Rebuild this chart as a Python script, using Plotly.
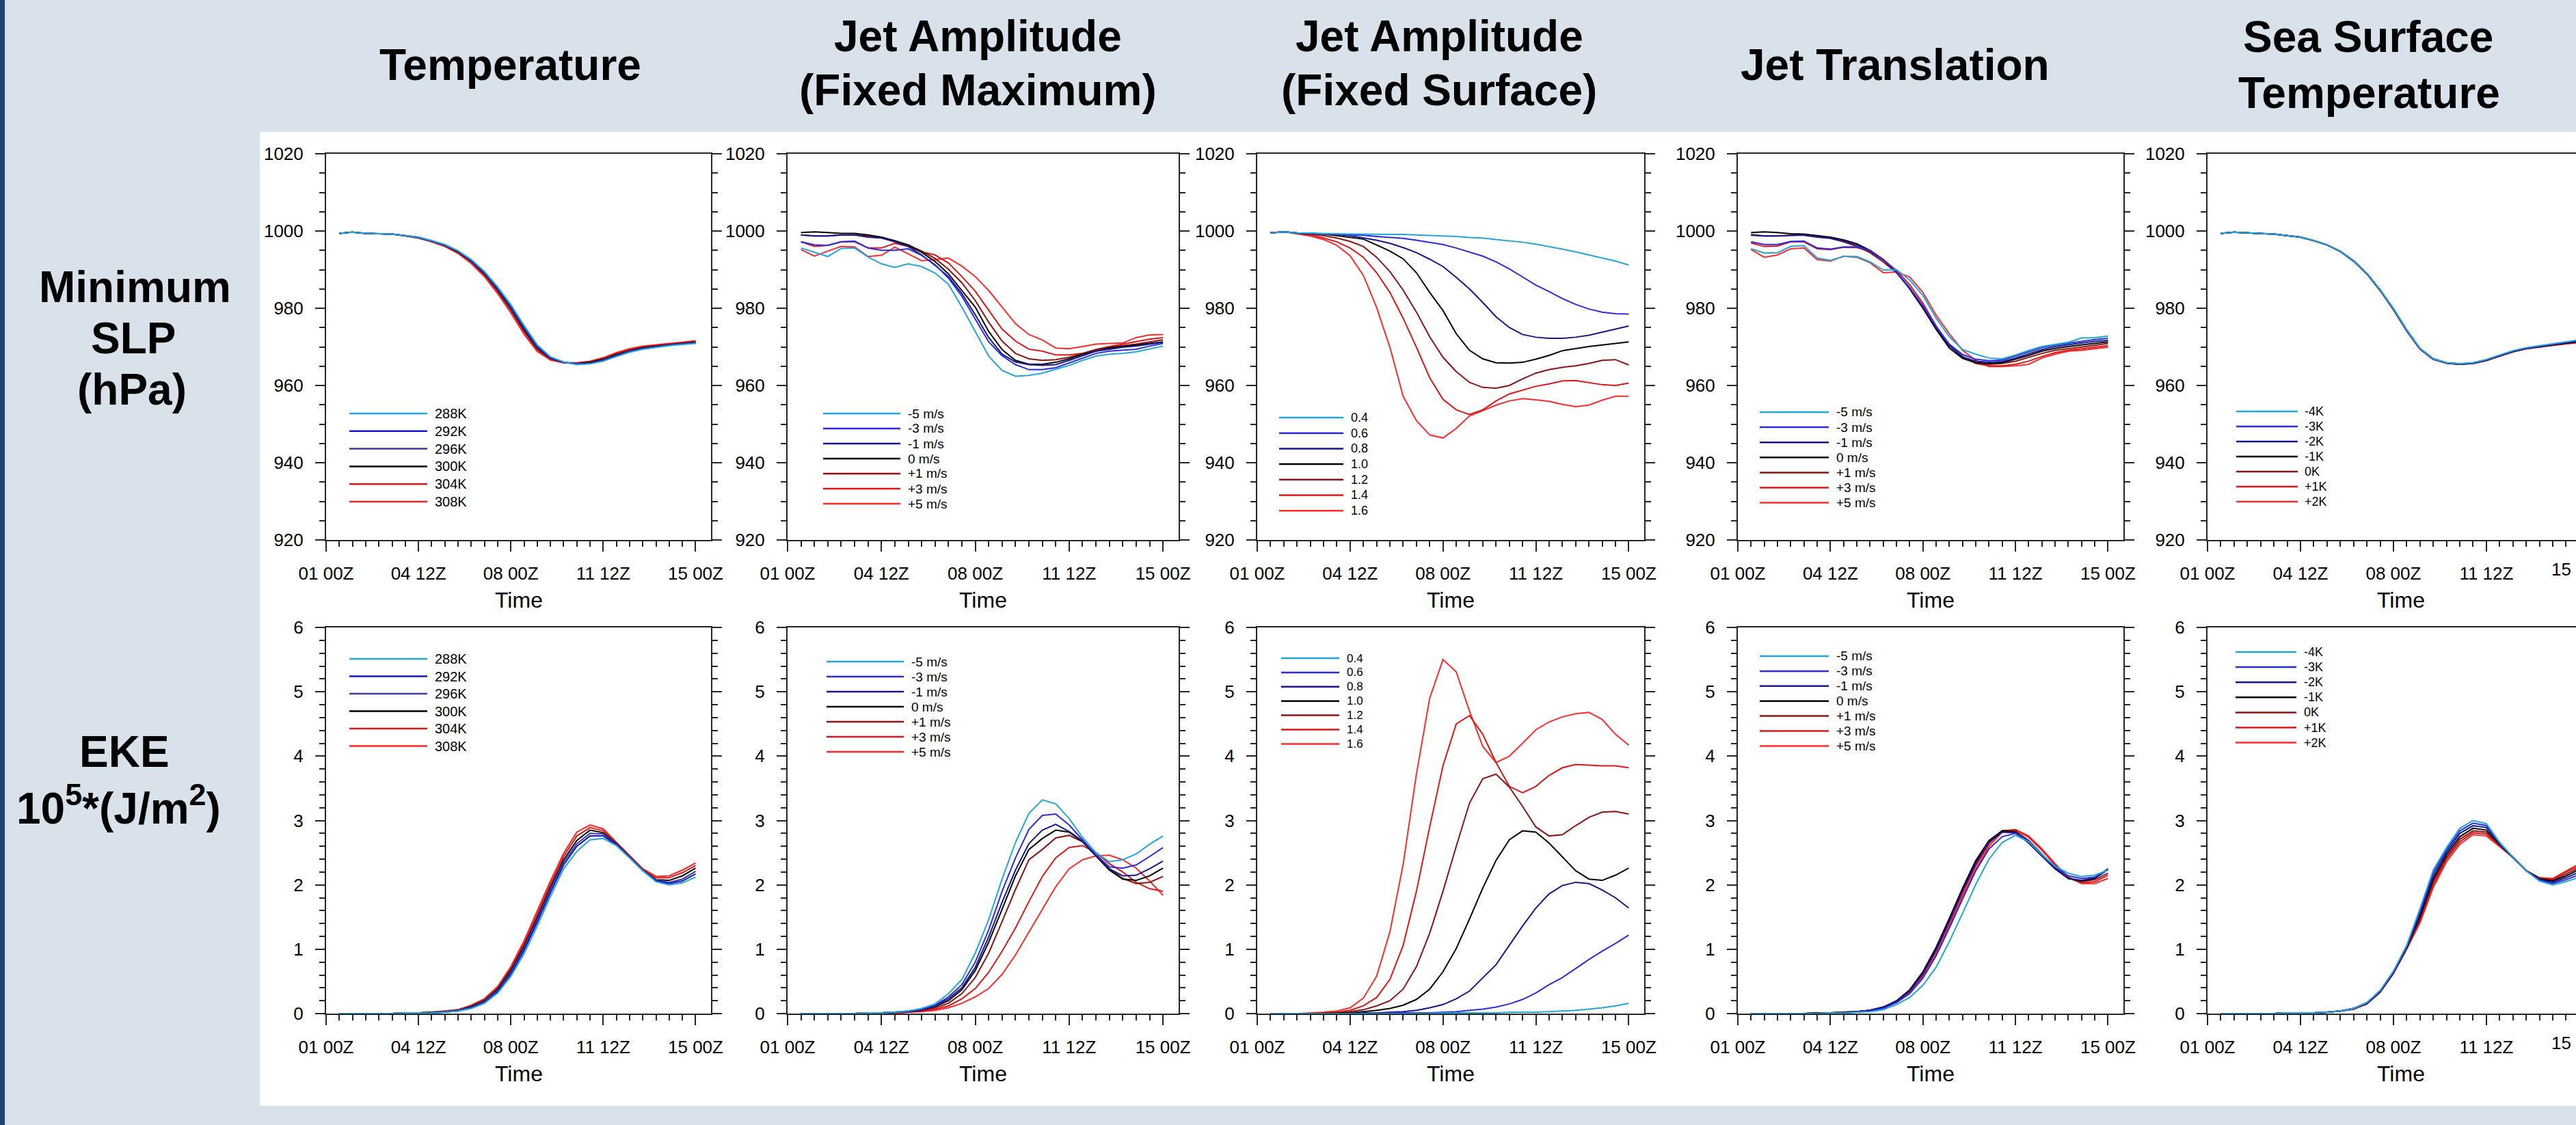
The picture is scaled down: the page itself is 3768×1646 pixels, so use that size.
import plotly.graph_objects as go

W, H = 3768, 1646

# ---------------- data ----------------
HOURS = [12, 24, 36, 48, 60, 72, 84, 96, 108, 120, 132, 144, 156, 168,
         180, 192, 204, 216, 228, 240, 252, 264, 276, 288, 300, 312, 324, 336]
TICK_HOURS = [0, 84, 168, 252, 336]
TICK_LABELS = ["01 00Z", "04 12Z", "08 00Z", "11 12Z", "15 00Z"]
MINOR_HOURS = [12, 24, 36, 48, 60, 72, 96, 108, 120, 132, 144, 156, 180, 192,
               204, 216, 228, 240, 264, 276, 288, 300, 312, 324]

COL_TITLES = [["Temperature"], ["Jet Amplitude", "(Fixed Maximum)"],
              ["Jet Amplitude", "(Fixed Surface)"], ["Jet Translation"],
              ["Sea Surface", "Temperature"]]
ROW_TITLES = [["Minimum", "SLP", "(hPa)"], ["EKE", "10<sup>5</sup>*(J/m<sup>2</sup>)"]]
X_TITLE = "Time"

TEMP_LABELS = ["288K", "292K", "296K", "300K", "304K", "308K"]
JET_LABELS = ["-5 m/s", "-3 m/s", "-1 m/s", "0 m/s", "+1 m/s", "+3 m/s", "+5 m/s"]
AMP_LABELS = ["0.4", "0.6", "0.8", "1.0", "1.2", "1.4", "1.6"]
SST_LABELS = ["-4K", "-3K", "-2K", "-1K", "0K", "+1K", "+2K"]

# Temperature: minimum SLP (hPa)
slp_t288 = [999.4, 999.7, 999.4, 999.3, 999.2, 998.8, 998.4, 997.5, 996.5, 994.9, 992.6, 989.5, 985.5, 980.9, 975.5, 970.5, 967.4, 966.1, 965.4, 965.6, 966.3, 967.5, 968.6, 969.4, 969.9, 970.3, 970.6, 970.9]
slp_t292 = [999.4, 999.7, 999.4, 999.3, 999.2, 998.8, 998.4, 997.5, 996.4, 994.8, 992.4, 989.3, 985.2, 980.5, 975.1, 970.1, 967.2, 966.0, 965.5, 965.7, 966.4, 967.6, 968.7, 969.5, 970.0, 970.4, 970.7, 971.0]
slp_t296 = [999.4, 999.7, 999.4, 999.3, 999.2, 998.8, 998.3, 997.4, 996.3, 994.7, 992.3, 989.1, 985.0, 980.2, 974.8, 969.9, 967.1, 966.0, 965.6, 965.8, 966.6, 967.8, 968.9, 969.6, 970.1, 970.5, 970.8, 971.1]
slp_t300 = [999.4, 999.7, 999.4, 999.3, 999.2, 998.8, 998.3, 997.4, 996.3, 994.6, 992.2, 988.9, 984.7, 979.9, 974.4, 969.6, 967.0, 966.0, 965.6, 966.0, 966.8, 968.0, 969.0, 969.8, 970.2, 970.6, 970.9, 971.2]
slp_t304 = [999.4, 999.7, 999.4, 999.3, 999.2, 998.7, 998.2, 997.3, 996.1, 994.4, 991.9, 988.6, 984.3, 979.4, 973.9, 969.2, 966.8, 965.9, 965.8, 966.1, 967.0, 968.3, 969.3, 970.0, 970.4, 970.8, 971.1, 971.4]
slp_t308 = [999.4, 999.7, 999.4, 999.3, 999.2, 998.7, 998.2, 997.2, 996.0, 994.2, 991.6, 988.2, 983.8, 978.8, 973.3, 968.8, 966.6, 965.9, 965.9, 966.3, 967.2, 968.5, 969.5, 970.2, 970.6, 970.9, 971.2, 971.6]

# Temperature: EKE (1e5 J/m2)
eke_t288 = [0, 0, 0, 0, 0, 0.01, 0.01, 0.01, 0.02, 0.04, 0.08, 0.16, 0.32, 0.58, 0.93, 1.36, 1.82, 2.25, 2.52, 2.70, 2.72, 2.61, 2.42, 2.22, 2.05, 2.00, 2.03, 2.12]
eke_t292 = [0, 0, 0, 0, 0, 0.01, 0.01, 0.01, 0.02, 0.04, 0.09, 0.17, 0.34, 0.61, 0.98, 1.42, 1.88, 2.31, 2.60, 2.76, 2.76, 2.62, 2.42, 2.22, 2.06, 2.02, 2.06, 2.17]
eke_t296 = [0, 0, 0, 0, 0, 0.01, 0.01, 0.01, 0.03, 0.05, 0.10, 0.19, 0.36, 0.64, 1.02, 1.46, 1.93, 2.35, 2.64, 2.80, 2.79, 2.63, 2.43, 2.23, 2.07, 2.04, 2.09, 2.21]
eke_t300 = [0, 0, 0, 0, 0, 0.01, 0.01, 0.02, 0.03, 0.05, 0.11, 0.20, 0.38, 0.67, 1.05, 1.49, 1.96, 2.39, 2.69, 2.85, 2.81, 2.64, 2.43, 2.23, 2.08, 2.07, 2.14, 2.26]
eke_t304 = [0, 0, 0, 0, 0, 0.01, 0.01, 0.02, 0.03, 0.06, 0.12, 0.22, 0.40, 0.70, 1.09, 1.54, 2.01, 2.44, 2.76, 2.89, 2.84, 2.65, 2.44, 2.24, 2.11, 2.11, 2.19, 2.30]
eke_t308 = [0, 0, 0, 0, 0, 0.01, 0.01, 0.02, 0.04, 0.06, 0.13, 0.23, 0.42, 0.73, 1.13, 1.59, 2.06, 2.49, 2.82, 2.93, 2.87, 2.66, 2.45, 2.25, 2.13, 2.14, 2.23, 2.34]

# Jet amplitude (fixed maximum): SLP
slp_am_m5 = [995.6, 994.5, 993.4, 995.5, 995.6, 993.3, 991.5, 990.6, 991.5, 990.8, 989.1, 986.2, 980.3, 974.0, 967.6, 963.9, 962.4, 962.6, 963.2, 964.2, 965.2, 966.5, 967.6, 968.1, 968.3, 968.7, 969.4, 970.2]
slp_am_m3 = [997.2, 996.4, 996.3, 997.2, 997.4, 995.6, 995.0, 995.0, 995.4, 993.7, 991.3, 987.8, 983.1, 977.2, 971.3, 967.7, 965.4, 964.1, 964.1, 964.6, 965.8, 967.1, 968.3, 968.9, 969.1, 969.4, 970.2, 970.9]
slp_am_m1 = [999.0, 998.7, 998.7, 999.0, 999.0, 998.4, 998.2, 997.2, 996.0, 993.8, 991.1, 988.2, 983.8, 978.3, 972.4, 968.1, 966.1, 965.4, 965.2, 965.4, 966.5, 967.7, 968.9, 969.4, 969.9, 970.2, 970.7, 971.2]
slp_am_0 = [999.6, 999.8, 999.6, 999.4, 999.4, 999.0, 998.4, 997.5, 996.4, 994.5, 992.1, 988.9, 984.6, 980.3, 974.0, 969.3, 966.5, 965.5, 965.5, 966.0, 966.9, 968.1, 968.9, 969.7, 970.1, 970.5, 970.9, 971.3]
slp_am_p1 = [999.0, 998.7, 998.7, 999.0, 999.0, 998.7, 998.4, 997.2, 996.4, 994.8, 992.9, 990.1, 986.6, 982.0, 976.4, 971.5, 968.3, 966.9, 966.5, 966.7, 967.3, 968.3, 969.3, 969.9, 970.3, 970.7, 971.3, 971.8]
slp_am_p3 = [997.2, 996.0, 996.3, 997.2, 997.2, 995.6, 995.6, 996.8, 996.0, 994.6, 993.8, 991.7, 988.2, 984.4, 979.5, 974.6, 971.5, 969.4, 968.9, 967.9, 967.9, 968.3, 969.3, 970.1, 970.7, 971.3, 972.0, 972.4]
slp_am_p5 = [995.2, 993.5, 994.8, 996.0, 995.9, 993.4, 993.7, 995.8, 994.1, 992.3, 992.6, 993.0, 990.9, 988.2, 984.6, 980.3, 976.0, 973.2, 971.8, 969.7, 969.5, 970.1, 970.7, 970.9, 971.0, 972.4, 973.1, 973.2]

# Jet amplitude (fixed maximum): EKE
eke_am_m5 = [0, 0, 0, 0, 0, 0.01, 0.01, 0.02, 0.04, 0.08, 0.15, 0.31, 0.53, 0.94, 1.46, 2.09, 2.66, 3.11, 3.32, 3.26, 3.03, 2.74, 2.50, 2.36, 2.39, 2.48, 2.63, 2.76]
eke_am_m3 = [0, 0, 0, 0, 0, 0.01, 0.01, 0.02, 0.04, 0.07, 0.13, 0.26, 0.45, 0.80, 1.30, 1.90, 2.42, 2.86, 3.08, 3.10, 2.93, 2.70, 2.47, 2.28, 2.26, 2.31, 2.44, 2.58]
eke_am_m1 = [0, 0, 0, 0, 0, 0.01, 0.01, 0.02, 0.03, 0.06, 0.12, 0.23, 0.40, 0.72, 1.19, 1.73, 2.23, 2.64, 2.85, 2.94, 2.83, 2.68, 2.47, 2.25, 2.14, 2.15, 2.25, 2.37]
eke_am_0 = [0, 0, 0, 0, 0, 0.01, 0.01, 0.02, 0.03, 0.06, 0.11, 0.20, 0.37, 0.67, 1.11, 1.62, 2.14, 2.55, 2.72, 2.85, 2.82, 2.67, 2.45, 2.23, 2.09, 2.07, 2.14, 2.26]
eke_am_p1 = [0, 0, 0, 0, 0, 0.01, 0.01, 0.02, 0.03, 0.05, 0.09, 0.16, 0.31, 0.56, 0.94, 1.43, 1.93, 2.39, 2.55, 2.73, 2.77, 2.67, 2.45, 2.25, 2.10, 2.02, 2.04, 2.13]
eke_am_p3 = [0, 0, 0, 0, 0, 0.01, 0.01, 0.01, 0.02, 0.04, 0.07, 0.12, 0.23, 0.39, 0.64, 0.97, 1.33, 1.74, 2.13, 2.42, 2.58, 2.61, 2.50, 2.33, 2.20, 2.04, 1.94, 1.90]
eke_am_p5 = [0, 0, 0, 0, 0, 0, 0.01, 0.01, 0.02, 0.03, 0.05, 0.09, 0.16, 0.26, 0.39, 0.61, 0.91, 1.27, 1.62, 1.97, 2.25, 2.39, 2.45, 2.46, 2.39, 2.26, 2.06, 1.84]

# Jet amplitude (fixed surface): SLP
slp_fs_04 = [999.5, 999.8, 999.5, 999.4, 999.4, 999.3, 999.2, 999.2, 999.2, 999.1, 999.1, 999.0, 998.9, 998.8, 998.6, 998.3, 998.2, 997.8, 997.5, 997.1, 996.6, 996.0, 995.3, 994.6, 993.8, 993.0, 992.2, 991.2]
slp_fs_06 = [999.5, 999.8, 999.5, 999.4, 999.3, 999.2, 999.1, 998.9, 998.6, 998.4, 998.1, 997.6, 997.1, 996.5, 995.6, 994.6, 993.5, 992.0, 990.2, 988.1, 986.0, 984.3, 982.5, 981.0, 979.8, 979.0, 978.6, 978.5]
slp_fs_08 = [999.5, 999.8, 999.5, 999.4, 999.3, 999.1, 998.8, 998.2, 997.6, 996.8, 995.7, 994.4, 992.7, 990.8, 988.0, 985.0, 981.5, 977.8, 975.0, 973.2, 972.5, 972.2, 972.2, 972.5, 973.0, 973.8, 974.6, 975.4]
slp_fs_10 = [999.5, 999.8, 999.5, 999.4, 999.2, 998.8, 998.3, 997.9, 996.4, 994.8, 992.8, 989.2, 984.1, 979.4, 973.4, 969.1, 966.9, 965.9, 965.8, 966.0, 966.8, 967.8, 969.0, 969.6, 970.1, 970.5, 970.9, 971.3]
slp_fs_12 = [999.5, 999.8, 999.4, 999.2, 998.8, 998.2, 997.3, 996.0, 993.2, 989.5, 984.7, 979.0, 972.6, 967.3, 963.6, 960.8, 959.5, 959.3, 960.0, 961.7, 963.2, 964.1, 964.7, 965.1, 965.7, 966.5, 966.7, 965.3]
slp_fs_14 = [999.5, 999.8, 999.4, 999.0, 998.2, 997.2, 995.6, 993.2, 989.2, 984.1, 977.4, 969.9, 962.0, 956.4, 953.7, 952.5, 953.7, 956.0, 957.8, 958.8, 959.8, 960.4, 961.2, 961.3, 960.8, 960.2, 960.0, 960.6]
slp_fs_16 = [999.5, 999.8, 999.3, 998.7, 997.8, 996.3, 993.6, 988.5, 980.2, 969.9, 957.2, 950.9, 947.2, 946.4, 948.9, 952.1, 953.5, 954.9, 956.0, 956.6, 956.3, 955.9, 955.1, 954.5, 954.9, 956.2, 957.2, 957.2]

# Jet amplitude (fixed surface): EKE
eke_fs_04 = [0, 0, 0, 0, 0, 0, 0, 0, 0, 0, 0, 0, 0, 0.01, 0.01, 0.01, 0.01, 0.01, 0.02, 0.02, 0.02, 0.03, 0.04, 0.05, 0.07, 0.09, 0.12, 0.16]
eke_fs_06 = [0, 0, 0, 0, 0, 0, 0, 0, 0, 0.01, 0.01, 0.01, 0.01, 0.02, 0.03, 0.05, 0.07, 0.10, 0.15, 0.22, 0.32, 0.45, 0.56, 0.70, 0.84, 0.97, 1.09, 1.22]
eke_fs_08 = [0, 0, 0, 0, 0, 0, 0, 0.01, 0.01, 0.02, 0.03, 0.05, 0.09, 0.14, 0.23, 0.35, 0.55, 0.76, 1.06, 1.36, 1.64, 1.86, 1.99, 2.04, 2.02, 1.92, 1.80, 1.64]
eke_fs_10 = [0, 0, 0, 0, 0, 0.01, 0.01, 0.03, 0.05, 0.08, 0.13, 0.22, 0.38, 0.65, 1.01, 1.47, 1.95, 2.38, 2.70, 2.84, 2.82, 2.65, 2.43, 2.22, 2.09, 2.07, 2.15, 2.26]
eke_fs_12 = [0, 0, 0, 0, 0.01, 0.01, 0.03, 0.06, 0.12, 0.20, 0.38, 0.73, 1.25, 1.90, 2.60, 3.27, 3.65, 3.72, 3.52, 3.22, 2.90, 2.76, 2.78, 2.92, 3.05, 3.13, 3.14, 3.10]
eke_fs_14 = [0, 0, 0, 0, 0.01, 0.02, 0.05, 0.12, 0.25, 0.53, 1.06, 1.90, 2.90, 3.85, 4.50, 4.63, 4.34, 3.90, 3.53, 3.43, 3.53, 3.70, 3.82, 3.87, 3.86, 3.85, 3.85, 3.82]
eke_fs_16 = [0, 0, 0, 0.01, 0.02, 0.04, 0.09, 0.24, 0.58, 1.27, 2.32, 3.72, 4.90, 5.50, 5.31, 4.70, 4.15, 3.90, 4.00, 4.20, 4.41, 4.53, 4.61, 4.66, 4.68, 4.57, 4.34, 4.17]

# Jet translation: SLP
slp_tr_m5 = [995.4, 994.3, 994.4, 996.0, 996.2, 993.0, 992.4, 993.4, 993.4, 992.0, 989.9, 990.0, 987.3, 983.3, 977.4, 972.6, 969.3, 968.1, 967.1, 966.9, 967.9, 969.1, 970.1, 970.7, 971.2, 972.3, 972.4, 972.8]
slp_tr_m3 = [997.2, 996.5, 996.5, 997.3, 997.4, 995.6, 995.3, 995.9, 995.9, 995.0, 992.6, 989.3, 985.3, 980.6, 975.3, 970.7, 968.0, 966.8, 966.4, 966.6, 967.6, 968.7, 969.8, 970.5, 971.0, 971.4, 971.9, 972.2]
slp_tr_m1 = [998.9, 998.7, 998.7, 998.9, 999.0, 998.5, 998.2, 997.4, 996.4, 994.8, 992.5, 989.3, 985.2, 980.4, 975.0, 970.3, 967.4, 966.3, 966.0, 966.2, 967.1, 968.2, 969.3, 970.1, 970.6, 971.0, 971.4, 971.7]
slp_tr_0 = [999.6, 999.8, 999.6, 999.3, 999.2, 998.8, 998.4, 997.7, 996.7, 995.0, 992.6, 989.3, 985.0, 980.0, 974.5, 969.7, 967.0, 965.9, 965.7, 965.9, 966.8, 967.8, 968.9, 969.6, 970.1, 970.5, 970.9, 971.3]
slp_tr_p1 = [999.1, 998.7, 998.7, 998.9, 998.9, 998.4, 998.1, 997.2, 996.0, 994.4, 992.0, 989.2, 985.3, 980.5, 974.9, 970.3, 967.3, 965.9, 965.5, 965.7, 966.3, 967.3, 968.3, 969.1, 969.5, 970.0, 970.4, 970.9]
slp_tr_p3 = [996.9, 996.0, 996.1, 997.2, 997.2, 995.4, 995.2, 995.8, 995.7, 994.8, 992.6, 989.8, 986.1, 981.3, 975.4, 970.4, 967.5, 965.7, 965.1, 965.1, 965.5, 966.3, 967.5, 968.5, 969.1, 969.5, 969.9, 970.3]
slp_tr_p5 = [995.2, 993.2, 993.8, 995.4, 995.6, 992.6, 992.2, 993.5, 993.2, 991.8, 989.2, 989.4, 988.1, 984.1, 978.2, 973.4, 969.1, 966.5, 964.9, 964.9, 965.1, 965.5, 967.1, 968.1, 968.9, 969.1, 969.5, 969.9]

# Jet translation: EKE
eke_tr_m5 = [0, 0, 0, 0, 0, 0, 0.01, 0.01, 0.02, 0.03, 0.06, 0.14, 0.25, 0.44, 0.72, 1.12, 1.56, 2.01, 2.40, 2.66, 2.77, 2.67, 2.47, 2.29, 2.18, 2.13, 2.15, 2.23]
eke_tr_m3 = [0, 0, 0, 0, 0, 0, 0.01, 0.01, 0.02, 0.04, 0.08, 0.17, 0.31, 0.55, 0.90, 1.33, 1.78, 2.22, 2.56, 2.75, 2.80, 2.68, 2.47, 2.28, 2.14, 2.10, 2.12, 2.24]
eke_tr_m1 = [0, 0, 0, 0, 0, 0, 0.01, 0.01, 0.03, 0.05, 0.10, 0.19, 0.35, 0.62, 0.99, 1.44, 1.91, 2.33, 2.66, 2.82, 2.81, 2.66, 2.45, 2.25, 2.10, 2.07, 2.11, 2.25]
eke_tr_0 = [0, 0, 0, 0, 0, 0.01, 0.01, 0.02, 0.03, 0.05, 0.10, 0.20, 0.37, 0.65, 1.03, 1.48, 1.95, 2.38, 2.69, 2.84, 2.82, 2.65, 2.45, 2.25, 2.10, 2.06, 2.10, 2.24]
eke_tr_p1 = [0, 0, 0, 0, 0, 0.01, 0.01, 0.02, 0.03, 0.05, 0.10, 0.19, 0.36, 0.63, 1.00, 1.45, 1.92, 2.35, 2.68, 2.84, 2.84, 2.69, 2.48, 2.27, 2.10, 2.05, 2.08, 2.18]
eke_tr_p3 = [0, 0, 0, 0, 0, 0.01, 0.01, 0.02, 0.03, 0.05, 0.10, 0.18, 0.34, 0.60, 0.97, 1.40, 1.87, 2.30, 2.64, 2.84, 2.86, 2.74, 2.54, 2.31, 2.12, 2.03, 2.05, 2.15]
eke_tr_p5 = [0, 0, 0, 0, 0, 0.01, 0.01, 0.02, 0.03, 0.05, 0.09, 0.17, 0.32, 0.57, 0.93, 1.35, 1.82, 2.25, 2.60, 2.82, 2.86, 2.76, 2.56, 2.33, 2.12, 2.02, 2.02, 2.10]

# Sea surface temperature: SLP
slp_sst_m4 = [999.4, 999.7, 999.5, 999.3, 999.2, 998.8, 998.4, 997.5, 996.4, 994.7, 992.3, 989.0, 984.8, 979.9, 974.4, 969.6, 966.9, 965.9, 965.6, 965.9, 966.7, 967.9, 969.0, 969.8, 970.3, 970.8, 971.3, 971.8]
slp_sst_m3 = [999.4, 999.7, 999.5, 999.3, 999.2, 998.8, 998.4, 997.5, 996.4, 994.7, 992.3, 989.0, 984.8, 979.9, 974.4, 969.6, 966.9, 965.9, 965.6, 965.9, 966.7, 967.8, 968.9, 969.7, 970.2, 970.7, 971.2, 971.7]
slp_sst_m2 = [999.4, 999.7, 999.5, 999.3, 999.2, 998.8, 998.4, 997.5, 996.4, 994.7, 992.3, 989.0, 984.7, 979.8, 974.3, 969.5, 966.9, 965.9, 965.6, 965.8, 966.6, 967.8, 968.9, 969.7, 970.2, 970.6, 971.1, 971.6]
slp_sst_m1 = [999.4, 999.7, 999.5, 999.3, 999.2, 998.8, 998.4, 997.5, 996.4, 994.7, 992.3, 989.0, 984.7, 979.8, 974.3, 969.5, 966.8, 965.8, 965.5, 965.8, 966.6, 967.7, 968.8, 969.6, 970.1, 970.6, 971.0, 971.4]
slp_sst_0 = [999.4, 999.7, 999.5, 999.3, 999.2, 998.8, 998.4, 997.5, 996.4, 994.7, 992.2, 988.9, 984.7, 979.7, 974.2, 969.5, 966.8, 965.8, 965.5, 965.7, 966.5, 967.7, 968.8, 969.6, 970.1, 970.5, 970.9, 971.3]
slp_sst_p1 = [999.4, 999.7, 999.5, 999.3, 999.2, 998.8, 998.4, 997.5, 996.4, 994.7, 992.2, 988.9, 984.6, 979.7, 974.2, 969.4, 966.8, 965.8, 965.5, 965.7, 966.5, 967.6, 968.7, 969.5, 970.0, 970.4, 970.8, 971.2]
slp_sst_p2 = [999.4, 999.7, 999.5, 999.3, 999.2, 998.8, 998.4, 997.5, 996.4, 994.7, 992.2, 988.9, 984.6, 979.6, 974.1, 969.4, 966.8, 965.8, 965.5, 965.7, 966.4, 967.6, 968.7, 969.5, 970.0, 970.4, 970.8, 971.1]

# Sea surface temperature: EKE
eke_sst_m4 = [0, 0, 0, 0, 0, 0.01, 0.01, 0.01, 0.02, 0.04, 0.08, 0.17, 0.36, 0.66, 1.06, 1.63, 2.23, 2.58, 2.88, 3.00, 2.95, 2.66, 2.43, 2.22, 2.06, 2.00, 2.05, 2.12]
eke_sst_m3 = [0, 0, 0, 0, 0, 0.01, 0.01, 0.01, 0.02, 0.04, 0.08, 0.17, 0.35, 0.65, 1.05, 1.59, 2.19, 2.55, 2.84, 2.96, 2.92, 2.65, 2.43, 2.22, 2.07, 2.02, 2.08, 2.16]
eke_sst_m2 = [0, 0, 0, 0, 0, 0.01, 0.01, 0.01, 0.02, 0.04, 0.08, 0.16, 0.35, 0.64, 1.04, 1.55, 2.14, 2.51, 2.80, 2.92, 2.89, 2.64, 2.43, 2.22, 2.08, 2.04, 2.11, 2.20]
eke_sst_m1 = [0, 0, 0, 0, 0, 0.01, 0.01, 0.01, 0.02, 0.04, 0.08, 0.16, 0.34, 0.64, 1.03, 1.51, 2.09, 2.47, 2.75, 2.88, 2.85, 2.63, 2.43, 2.22, 2.09, 2.06, 2.14, 2.24]
eke_sst_0 = [0, 0, 0, 0, 0, 0.01, 0.01, 0.01, 0.02, 0.04, 0.07, 0.16, 0.34, 0.63, 1.02, 1.48, 2.05, 2.43, 2.71, 2.84, 2.82, 2.62, 2.43, 2.22, 2.10, 2.07, 2.17, 2.27]
eke_sst_p1 = [0, 0, 0, 0, 0, 0.01, 0.01, 0.01, 0.02, 0.04, 0.07, 0.15, 0.33, 0.63, 1.01, 1.44, 2.00, 2.40, 2.67, 2.81, 2.79, 2.61, 2.43, 2.22, 2.11, 2.09, 2.20, 2.30]
eke_sst_p2 = [0, 0, 0, 0, 0, 0.01, 0.01, 0.01, 0.02, 0.04, 0.07, 0.15, 0.33, 0.62, 1.00, 1.41, 1.96, 2.36, 2.63, 2.78, 2.76, 2.60, 2.43, 2.22, 2.11, 2.10, 2.22, 2.33]

# ---------------- styling ----------------
BG = "#d9e1ea"
STRIPE = "#1d4677"
AXC = "#262626"
FONT = "Liberation Sans, Arial, Helvetica, sans-serif"

C_CYAN, C_BLUE, C_NAVY, C_BLACK = "#1fa6de", "#2a2ae4", "#161690", "#000000"
C_DRED, C_RED, C_BRED = "#8e1212", "#dc1616", "#ff2a2a"
TEMP_COLORS = [C_CYAN, "#1414cc", "#3a3aa0", C_BLACK, "#e01818", "#ff2020"]
SEVEN_COLORS = [C_CYAN, C_BLUE, C_NAVY, C_BLACK, C_DRED, C_RED, C_BRED]

def px(x):
    return x / W

def py(y):
    return 1 - y / H

COLS_X = [(477, 1040), (1152, 1724), (1839, 2405), (2542, 3106), (3229, 3768)]
ROWS_Y = [(225, 790), (918, 1483)]
X_MAX = [350, 350, 350, 350, 333]
Y_AX = [dict(range=[920, 1020], tick0=920, dtick=20, minor=5),
        dict(range=[0, 6], tick0=0, dtick=1, minor=0.2)]

# legend geometry per (col,row): line x0, line x1, text x, first y, step, font size
LEG = {
    (0, 0): (511, 625, 634, 605, 25.8, 20), (0, 1): (511, 625, 634, 964, 25.5, 20),
    (1, 0): (1204, 1317, 1326, 605, 22.0, 19), (1, 1): (1209, 1322, 1331, 968, 22.0, 19),
    (2, 0): (1871, 1965, 1974, 611, 22.7, 18), (2, 1): (1874, 1959, 1968, 963, 20.9, 17),
    (3, 0): (2574, 2675, 2684, 603, 22.1, 19), (3, 1): (2574, 2675, 2684, 960, 21.9, 19),
    (4, 0): (3271, 3361, 3369, 602, 22.0, 18), (4, 1): (3270, 3359, 3368, 954, 22.1, 18),
}

PANELS = {
    (0, 0): ([slp_t288, slp_t292, slp_t296, slp_t300, slp_t304, slp_t308], TEMP_LABELS, TEMP_COLORS),
    (0, 1): ([eke_t288, eke_t292, eke_t296, eke_t300, eke_t304, eke_t308], TEMP_LABELS, TEMP_COLORS),
    (1, 0): ([slp_am_m5, slp_am_m3, slp_am_m1, slp_am_0, slp_am_p1, slp_am_p3, slp_am_p5], JET_LABELS, SEVEN_COLORS),
    (1, 1): ([eke_am_m5, eke_am_m3, eke_am_m1, eke_am_0, eke_am_p1, eke_am_p3, eke_am_p5], JET_LABELS, SEVEN_COLORS),
    (2, 0): ([slp_fs_04, slp_fs_06, slp_fs_08, slp_fs_10, slp_fs_12, slp_fs_14, slp_fs_16], AMP_LABELS, SEVEN_COLORS),
    (2, 1): ([eke_fs_04, eke_fs_06, eke_fs_08, eke_fs_10, eke_fs_12, eke_fs_14, eke_fs_16], AMP_LABELS, SEVEN_COLORS),
    (3, 0): ([slp_tr_m5, slp_tr_m3, slp_tr_m1, slp_tr_0, slp_tr_p1, slp_tr_p3, slp_tr_p5], JET_LABELS, SEVEN_COLORS),
    (3, 1): ([eke_tr_m5, eke_tr_m3, eke_tr_m1, eke_tr_0, eke_tr_p1, eke_tr_p3, eke_tr_p5], JET_LABELS, SEVEN_COLORS),
    (4, 0): ([slp_sst_m4, slp_sst_m3, slp_sst_m2, slp_sst_m1, slp_sst_0, slp_sst_p1, slp_sst_p2], SST_LABELS, SEVEN_COLORS),
    (4, 1): ([eke_sst_m4, eke_sst_m3, eke_sst_m2, eke_sst_m1, eke_sst_0, eke_sst_p1, eke_sst_p2], SST_LABELS, SEVEN_COLORS),
}

fig = go.Figure()
layout = dict(width=W, height=H, autosize=False,
              margin=dict(l=0, r=0, t=0, b=0, pad=0, autoexpand=False),
              paper_bgcolor=BG, plot_bgcolor="white", showlegend=False,
              font=dict(family=FONT, color="black"))
shapes, annotations = [], []

# background panel + left stripe
shapes.append(dict(type="rect", xref="paper", yref="paper", x0=px(380), x1=1.0,
                   y0=py(1618), y1=py(193), fillcolor="white", line=dict(width=0), layer="below"))
shapes.append(dict(type="rect", xref="paper", yref="paper", x0=0, x1=px(7),
                   y0=0, y1=1, fillcolor=STRIPE, line=dict(width=0), layer="below"))

for (col, row), (series, labels, colors) in PANELS.items():
    idx = row * 5 + col + 1
    xa, ya = f"x{idx}", f"y{idx}"
    xkey = "xaxis" if idx == 1 else f"xaxis{idx}"
    ykey = "yaxis" if idx == 1 else f"yaxis{idx}"
    x0, x1 = COLS_X[col]
    ytop, ybot = ROWS_Y[row]
    yc = Y_AX[row]
    last = col == 4
    layout[xkey] = dict(
        domain=[px(x0), px(x1)], range=[0, X_MAX[col]], anchor=ya, automargin=False,
        tickmode="array", tickvals=TICK_HOURS, ticktext=TICK_LABELS,
        ticks="outside", ticklen=15, tickwidth=2, tickcolor=AXC,
        showline=True, linecolor=AXC, linewidth=2, mirror=True,
        showgrid=False, zeroline=False, ticklabelstandoff=10,
        tickfont=dict(size=26, family=FONT, color="black"),
        minor=dict(tickmode="array", tickvals=MINOR_HOURS, ticks="outside",
                   ticklen=8, tickwidth=1.5, tickcolor=AXC, showgrid=False),
    )
    layout[ykey] = dict(
        domain=[py(ybot), py(ytop)], range=yc["range"], anchor=xa, automargin=False,
        tickmode="linear", tick0=yc["tick0"], dtick=yc["dtick"],
        ticks="outside", ticklen=14, tickwidth=2, tickcolor=AXC,
        showline=True, linecolor=AXC, linewidth=2,
        mirror=False if last else "allticks",
        showgrid=False, zeroline=False, ticklabelstandoff=12,
        tickfont=dict(size=26, family=FONT, color="black"),
        minor=dict(tick0=yc["tick0"], dtick=yc["minor"], ticks="outside",
                   ticklen=8, tickwidth=1.5, tickcolor=AXC, showgrid=False),
    )
    # draw warm members first so that the cool members sit on top (as in the original)
    for vals, name, colr in reversed(list(zip(series, labels, colors))):
        fig.add_trace(go.Scatter(x=HOURS, y=vals, mode="lines", name=name,
                                 line=dict(color=colr, width=2), xaxis=xa, yaxis=ya,
                                 showlegend=False, hoverinfo="skip"))
    # "Time" axis label
    annotations.append(dict(text=X_TITLE, xref=xa, x=175, yref="paper", y=py(ybot + 88),
                            xanchor="center", yanchor="middle", showarrow=False,
                            font=dict(size=32, family=FONT, color="black")))
    if last:
        xr = x0 + (x1 - x0) * TICK_HOURS[-1] / X_MAX[col]
        annotations.append(dict(text=TICK_LABELS[-1], xref="paper", x=px(xr), yref="paper",
                                y=py(ybot + 43), xanchor="center", yanchor="middle",
                                showarrow=False, font=dict(size=26, family=FONT, color="black")))
    # in-plot legend
    lx0, lx1, tx, ly0, dy, fs = LEG[(col, row)]
    for i, (name, colr) in enumerate(zip(labels, colors)):
        yy = ly0 + i * dy
        shapes.append(dict(type="line", xref="paper", yref="paper", x0=px(lx0), x1=px(lx1),
                           y0=py(yy), y1=py(yy), line=dict(color=colr, width=2.5)))
        annotations.append(dict(text=name, xref="paper", yref="paper", x=px(tx), y=py(yy),
                                xanchor="left", yanchor="middle", showarrow=False,
                                font=dict(size=fs, family=FONT, color="black")))

# column titles
COL_TITLE_POS = [[(746, 95)], [(1430, 53), (1430, 132)], [(2105, 53), (2105, 132)],
                 [(2772, 95)], [(3464, 54), (3465, 136)]]
for lines, poss in zip(COL_TITLES, COL_TITLE_POS):
    for txt, (x, y) in zip(lines, poss):
        annotations.append(dict(text=f"<b>{txt}</b>", xref="paper", yref="paper", x=px(x), y=py(y),
                                xanchor="center", yanchor="middle", showarrow=False,
                                font=dict(size=64, family=FONT, color="black")))

ROW_TITLE_POS = [[(197, 420), (195, 495), (193, 570)], [(182, 1100), (173, 1178)]]
for lines, poss in zip(ROW_TITLES, ROW_TITLE_POS):
    for txt, (x, y) in zip(lines, poss):
        annotations.append(dict(text=f"<b>{txt}</b>", xref="paper", yref="paper", x=px(x), y=py(y),
                                xanchor="center", yanchor="middle", showarrow=False,
                                font=dict(size=64, family=FONT, color="black")))

layout["shapes"] = shapes
layout["annotations"] = annotations
fig.update_layout(**layout)
fig.write_html("out.html")
